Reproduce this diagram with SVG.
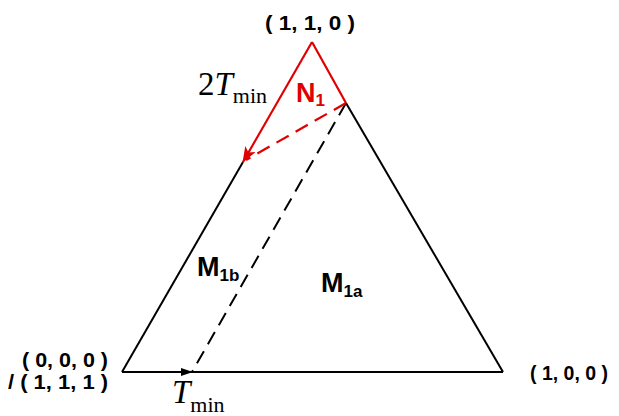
<svg xmlns="http://www.w3.org/2000/svg" width="619" height="416" viewBox="0 0 619 416">
<style>
.lbl{font-family:"Liberation Sans",Arial,sans-serif;font-weight:bold;font-size:20px;fill:#000}
.m{font-family:"Liberation Sans",Arial,sans-serif;font-weight:bold;font-size:27px;fill:#000}
.sub{font-size:17px}
.serif{font-family:"Liberation Serif","Times New Roman",serif;font-size:33px;fill:#000}
.it{font-style:italic}
.ssub{font-size:22px}
.blk{stroke:#000;stroke-width:2;fill:none}
.red{stroke:#e00000;stroke-width:2.2;fill:none}
.dash{stroke-dasharray:14,8}
</style>
<defs>
<marker id="ab" markerWidth="12" markerHeight="8" refX="11" refY="4" orient="auto" markerUnits="userSpaceOnUse" viewBox="0 0 12 8">
<path d="M0,0 L12,4 L0,8 Z" fill="#000"/>
</marker>
<marker id="ar" markerWidth="16" markerHeight="12" refX="15" refY="6" orient="auto" markerUnits="userSpaceOnUse" viewBox="0 0 16 12">
<path d="M0,0 L16,6 L0,12 L4,6 Z" fill="#e00000"/>
</marker>
</defs>
<g id="connectors">
<line class="blk" x1="243" y1="162" x2="122" y2="372"/>
<line class="blk" x1="346" y1="103" x2="503" y2="372"/>
<line class="blk" x1="503" y1="372" x2="122" y2="372"/>
<line class="blk" x1="122" y1="372" x2="192" y2="372" marker-end="url(#ab)"/>
<line class="blk dash" x1="346" y1="103" x2="192" y2="372"/>
<line class="red" x1="312" y1="42" x2="346" y2="103"/>
<line class="red" x1="312" y1="42" x2="243" y2="162" marker-end="url(#ar)"/>
<line class="red dash" x1="346" y1="103" x2="246" y2="160"/>
</g>
<g id="node-110"><text class="lbl" x="265" y="30" textLength="90" lengthAdjust="spacingAndGlyphs">( 1, 1, 0 )</text></g>
<g id="node-000"><text class="lbl" x="22" y="367" textLength="86" lengthAdjust="spacingAndGlyphs">( 0, 0, 0 )</text><text class="lbl" x="8" y="389" textLength="100" lengthAdjust="spacingAndGlyphs">/ ( 1, 1, 1 )</text></g>
<g id="node-100"><text class="lbl" x="530" y="380" textLength="78" lengthAdjust="spacingAndGlyphs">( 1, 0, 0 )</text></g>
<g id="label-2tmin"><text class="serif" x="198" y="95">2<tspan class="it">T</tspan><tspan class="ssub" dy="8">min</tspan></text></g>
<g id="label-tmin"><text class="serif" x="172" y="403"><tspan class="it">T</tspan><tspan class="ssub" dy="9">min</tspan></text></g>
<g id="region-N1"><text class="m" x="296" y="102" style="fill:#e00000">N<tspan class="sub" dy="4">1</tspan></text></g>
<g id="region-M1b"><text class="m" x="197" y="276">M<tspan class="sub" dy="5">1b</tspan></text></g>
<g id="region-M1a"><text class="m" x="321" y="292">M<tspan class="sub" dy="5">1a</tspan></text></g>
</svg>
